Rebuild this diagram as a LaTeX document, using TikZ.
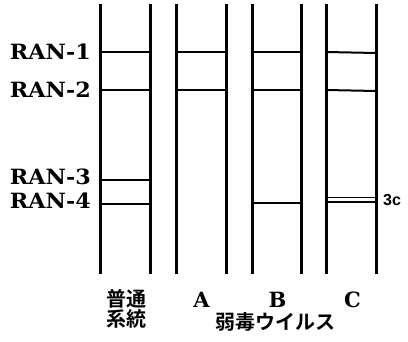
\documentclass[tikz,border=0pt]{standalone}
\usepackage{fontspec}
\newfontfamily\jpfont{Noto Sans CJK JP}[BoldFont={* Bold}]
\newfontfamily\lsans{Liberation Sans}
\newfontfamily\dserif{DejaVu Serif}
\begin{document}
\begin{tikzpicture}[x=1pt,y=-1pt,
  lane/.style={line width=3pt},
  band/.style={line width=2pt},
  ranlab/.style={anchor=east,inner sep=0pt,xscale=1.06,font=\fontsize{21}{22}\dserif\bfseries},
  letlab/.style={inner sep=0pt,font=\fontsize{21}{22}\dserif\bfseries},
  jplab/.style={inner sep=0pt,text height=15pt,text depth=1pt,font=\fontsize{20}{22}\jpfont\bfseries}]
\useasboundingbox (0,0) rectangle (408,342);
% lane endpoints
\foreach \n/\x in {a/100,b/150,c/176,d/226,e/252,f/301,g/326,h/376}{
  \coordinate (\n t) at (\x,4);
  \coordinate (\n b) at (\x,274);
}
\draw[lane] (at) -- (ab);
\draw[lane] (bt) -- (bb);
\draw[lane] (ct) -- (cb);
\draw[lane] (dt) -- (db);
\draw[lane] (et) -- (eb);
\draw[lane] (ft) -- (fb);
\draw[lane] (gt) -- (gb);
\draw[lane] (ht) -- (hb);
% band coordinates
\foreach \n/\x/\y in {a1/100/52,b1/150/52,a2/100/90,b2/150/90,a3/100/180,b3/150/180,a4/100/204,b4/150/204,
  c1/176/52,d1/226/52,c2/176/90,d2/226/90,
  e1/252/52,f1/301/52,e2/252/90,f2/301/90,e4/252/203,f4/301/203,
  g1/326/52,h1/376/53,g2/326/90,h2/376/91,g3/326/197.5,h3/376/197.5,g4/326/202,h4/376/202}{
  \coordinate (\n) at (\x,\y);
}
\draw[band] (a1) -- (b1);
\draw[band] (a2) -- (b2);
\draw[band] (a3) -- (b3);
\draw[band] (a4) -- (b4);
\draw[band] (c1) -- (d1);
\draw[band] (c2) -- (d2);
\draw[band] (e1) -- (f1);
\draw[band] (e2) -- (f2);
\draw[band] (e4) -- (f4);
\draw[band] (g1) -- (h1);
\draw[band] (g2) -- (h2);
\draw[line width=1.5pt] (g3) -- (h3);
\draw[line width=1.5pt] (g4) -- (h4);
% labels
\node[ranlab] (r1) at (91,52) {RAN-1};
\node[ranlab] (r2) at (91,90) {RAN-2};
\node[ranlab] (r3) at (91,177) {RAN-3};
\node[ranlab] (r4) at (91,201) {RAN-4};
\node[anchor=west,inner sep=0pt,font=\fontsize{16}{18}\lsans\bfseries] (l3c) at (383,200.5) {3c};
\node[letlab] (la) at (201.5,300) {A};
\node[letlab] (lb) at (277.5,300) {B};
\node[letlab] (lc) at (352.5,300) {C};
\node[jplab] (n1) at (126.5,300) {普通};
\node[jplab] (n2) at (126.5,320) {系統};
\node[jplab] (n3) at (275,323) {弱毒ウイルス};
\end{tikzpicture}
\end{document}
